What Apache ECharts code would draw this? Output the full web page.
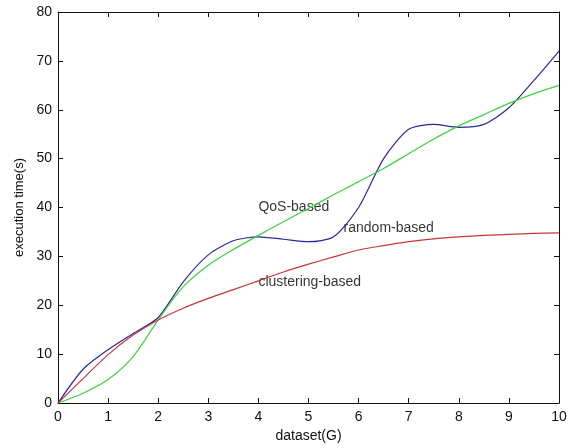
<!DOCTYPE html>
<html>
<head>
<meta charset="utf-8">
<script src="https://cdn.jsdelivr.net/npm/echarts@6/dist/echarts.min.js"></script>
<style>html,body{margin:0;padding:0;background:#fff}#c{width:575px;height:448px}</style>
</head>
<body>
<div id="c"></div>
<script>
// Data
var xValues = [0, 0.5, 1, 1.5, 2, 2.5, 3, 3.5, 4, 4.5, 5, 5.5, 6, 6.5, 7, 7.5, 8, 8.5, 9, 9.5, 10];
var randomBased = [0, 6.9, 10.9, 14.2, 17.5, 24.8, 30.3, 33.2, 34, 33.5, 33, 34, 40, 50, 56, 57, 56.4, 57, 60.4, 66, 72];
var qosBased = [0, 2, 4.8, 9.5, 17, 23.8, 28.2, 31.4, 34.3, 37.1, 39.8, 42.6, 45.3, 48, 51, 54, 56.7, 59, 61.3, 63.3, 65];
var clusteringBased = [0, 5, 9.9, 13.9, 17, 19.4, 21.4, 23.2, 25, 26.8, 28.4, 29.9, 31.3, 32.2, 33, 33.6, 34, 34.3, 34.5, 34.7, 34.8];
var annotationTexts = ['QoS-based', 'random-based', 'clustering-based'];
var annotationX = [4, 5.7, 4];
var annotationY = [40, 35.8, 24.7];

function pairs(xs, ys) { return xs.map(function (x, i) { return [x, ys[i]]; }); }

var font = 'Liberation Sans, Arial, sans-serif';
var axisColor = '#111';
function axisBase(extra) {
  var a = {
    type: 'value',
    axisLine: { show: true, onZero: false, lineStyle: { color: axisColor, width: 1 } },
    axisTick: { show: true, inside: true, length: 5, lineStyle: { color: axisColor, width: 1 } },
    splitLine: { show: false },
    axisLabel: { color: '#111', fontFamily: font, fontSize: 14 }
  };
  for (var k in extra) a[k] = extra[k];
  return a;
}

var chart = echarts.init(document.getElementById('c'), null, { renderer: 'canvas' });
chart.setOption({
  animation: false,
  backgroundColor: '#fff',
  grid: { left: 58, right: 16, top: 12, bottom: 44, containLabel: false },
  xAxis: [
    axisBase({ min: 0, max: 10, interval: 1, position: 'bottom', name: 'dataset(G)', nameLocation: 'middle', nameGap: 26,
      nameTextStyle: { color: '#111', fontFamily: font, fontSize: 14 }, axisLabel: { color: '#111', fontFamily: font, fontSize: 14, margin: 7 } }),
    axisBase({ min: 0, max: 10, interval: 1, position: 'top', axisLabel: { show: false } })
  ],
  yAxis: [
    axisBase({ min: 0, max: 80, interval: 10, position: 'left', name: 'execution time(s)', nameLocation: 'middle', nameGap: 27,
      nameTextStyle: { color: '#111', fontFamily: font, fontSize: 13 }, axisLabel: { color: '#111', fontFamily: font, fontSize: 14, margin: 6 } }),
    axisBase({ min: 0, max: 80, interval: 10, position: 'right', axisLabel: { show: false } })
  ],
  series: [
    { name: 'random-based', type: 'line', data: pairs(xValues, randomBased), showSymbol: false, smooth: 0.25,
      lineStyle: { color: '#2a2a96', width: 1.2 }, itemStyle: { color: '#2a2a96' } },
    { name: 'QoS-based', type: 'line', data: pairs(xValues, qosBased), showSymbol: false, smooth: 0.3,
      lineStyle: { color: '#3fd23f', width: 1.2 }, itemStyle: { color: '#3fd23f' } },
    { name: 'clustering-based', type: 'line', data: pairs(xValues, clusteringBased), showSymbol: false, smooth: 0.3,
      lineStyle: { color: '#c4383a', width: 1.2 }, itemStyle: { color: '#c4383a' } },
    { name: 'labels', type: 'scatter', symbolSize: 0, silent: true,
      data: annotationTexts.map(function (t, i) { return { value: [annotationX[i], annotationY[i]], name: t }; }),
      label: { show: true, position: 'right', distance: 0, formatter: '{b}', color: '#000', fontFamily: font, fontSize: 14 } }
  ]
});
</script>
</body>
</html>
